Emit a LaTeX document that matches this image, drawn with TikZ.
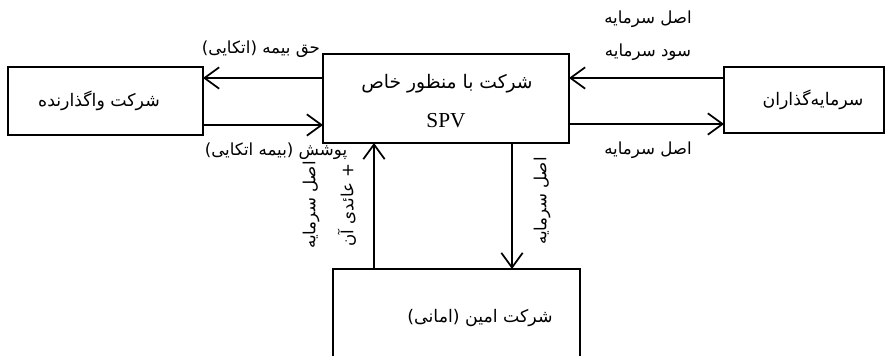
\documentclass[tikz,border=0pt]{standalone}
\usepackage{fontspec}
\usetikzlibrary{arrows.meta}
\TeXXeTstate=1
\newfontfamily\fa[Script=Arabic]{DejaVu Sans}
\newfontfamily\lat{Liberation Serif}
\begin{document}
\begin{tikzpicture}[x=0.75pt,y=-0.75pt,
  frame/.style={line width=1.3pt},
  conn/.style={line width=1.3pt,-{Straight Barb[length=11pt,width=16pt,line width=1.3pt]}},
  lbl/.style={font=\fa\fontsize{12.5}{14}\selectfont,inner sep=1pt},
  btxt/.style={font=\fa\fontsize{13}{15}\selectfont}]
\useasboundingbox (0,0) rectangle (893,356);
% boxes
\draw[frame] (8,67) rectangle (203,135);
\draw[frame] (323,54) rectangle (569,143);
\draw[frame] (724,67) rectangle (884,133);
\draw[frame] (333,362) -- (333,269) -- (580,269) -- (580,362);
\node[btxt] (ltxt) at (99,101) {\beginR شرکت واگذارنده\endR};
\node[font=\fa\fontsize{14}{16}\selectfont] (spv1) at (447,84) {\beginR شرکت با منظور خاص\endR};
\node[font=\lat\fontsize{16}{18}\selectfont] (spv2) at (446,121) {SPV};
\node[btxt] (rtxt) at (813,100) {\beginR سرمایه‌گذاران\endR};
\node[btxt] (btxt) at (480,318) {\beginR شرکت امین (امانی)\endR};
% coordinates for connectors
\coordinate (a1) at (323,78); \coordinate (a2) at (203,78);
\coordinate (b1) at (203,125); \coordinate (b2) at (323,125);
\coordinate (c1) at (724,78); \coordinate (c2) at (569,78);
\coordinate (d1) at (569,124); \coordinate (d2) at (724,124);
\coordinate (e1) at (374,269); \coordinate (e2) at (374,143);
\coordinate (f1) at (512,143); \coordinate (f2) at (512,269);
\draw[conn] (a1) -- (a2);
\draw[conn] (b1) -- (b2);
\draw[conn] (c1) -- (c2);
\draw[conn] (d1) -- (d2);
\draw[conn] (e1) -- (e2);
\draw[conn] (f1) -- (f2);
% labels
\node[lbl] (la) at (261,49) {\beginR حق بیمه (اتکایی)\endR};
\node[lbl] (lb) at (276,151) {\beginR پوشش (بیمه اتکایی)\endR};
\node[lbl] (lc1) at (648,19) {\beginR اصل سرمایه\endR};
\node[lbl] (lc2) at (648,52) {\beginR سود سرمایه\endR};
\node[lbl] (ld) at (648,150) {\beginR اصل سرمایه\endR};
\node[lbl,rotate=90] (le1) at (311,205) {\beginR اصل سرمایه\endR};
\node[lbl,rotate=90] (le2) at (347,205) {\beginR + عائدی آن\endR};
\node[lbl,rotate=90] (lf) at (542,201) {\beginR اصل سرمایه\endR};
\end{tikzpicture}
\end{document}
